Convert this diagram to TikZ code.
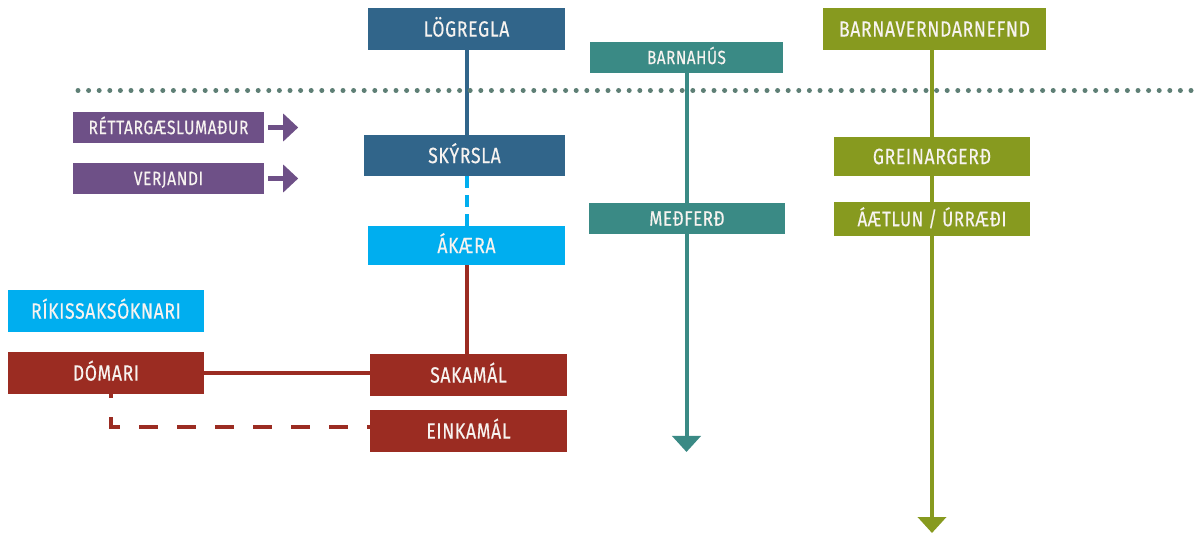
\documentclass[tikz,border=0pt]{standalone}
\usepackage{fontspec}
\setmainfont{Fira Sans}[FakeStretch=0.8, LetterSpace=3, FakeBold=0.4]
\usetikzlibrary{arrows.meta}
\definecolor{cblue}{HTML}{31658A}
\definecolor{cteal}{HTML}{3A8A85}
\definecolor{colive}{HTML}{879A1F}
\definecolor{cpurple}{HTML}{6E5087}
\definecolor{clight}{HTML}{00AEEF}
\definecolor{cred}{HTML}{9B2C22}
\definecolor{cdot}{HTML}{5E7F75}
\definecolor{ctext}{HTML}{F7F3F0}
\begin{document}
\begin{tikzpicture}[x=1pt,y=-1pt,
  box/.style={fill=#1, text=ctext, inner sep=0pt, anchor=center, font=\fontsize{22}{26}\selectfont, text height=15.2pt, text depth=0pt},
  smallbox/.style={box=#1, font=\fontsize{19}{22}\selectfont, text height=13.1pt},
  purpbox/.style={box=cpurple, font=\fontsize{19.5}{22}\selectfont, text height=13.4pt},
  midbox/.style={box=#1, font=\fontsize{21}{24}\selectfont, text height=14.5pt},
  conn/.style={line width=4pt, draw=#1},
  tealarrow/.style={line width=4pt, draw=#1, -{Triangle[length=16pt,width=28pt]}, #1},
  purparrow/.style={line width=5pt, draw=cpurple, -{Triangle[length=15pt,width=27pt]}, cpurple}]
\path[use as bounding box] (0,0) rectangle (1200,534);

% nodes
\node[box=cblue, minimum width=197pt, minimum height=42pt] (log) at (466.5,29) {LÖGREGLA};
\node[smallbox=cteal, minimum width=193pt, minimum height=31pt] (barnahus) at (686.5,57.5) {BARNAHÚS};
\node[box=colive, minimum width=223pt, minimum height=42pt] (barnav) at (934.5,29) {BARNAVERNDARNEFND};
\node[purpbox, minimum width=191pt, minimum height=31pt] (rett) at (168.5,127.5) {RÉTTARGÆSLUMAÐUR};
\node[purpbox, minimum width=191pt, minimum height=31pt] (verj) at (168.5,178.5) {VERJANDI};
\node[box=cblue, minimum width=201pt, minimum height=41pt] (sky) at (464.5,155.5) {SKÝRSLA};
\node[box=colive, minimum width=196pt, minimum height=39pt] (grein) at (932,156.5) {GREINARGERÐ};
\node[midbox=cteal, minimum width=196pt, minimum height=31pt] (medf) at (687,218.5) {MEÐFERÐ};
\node[midbox=colive, minimum width=196pt, minimum height=34pt] (aetl) at (932,219) {ÁÆTLUN / ÚRRÆÐI};
\node[box=clight, minimum width=197pt, minimum height=39pt] (akaera) at (466.5,245.5) {ÁKÆRA};
\node[box=clight, minimum width=196pt, minimum height=42pt] (rikis) at (106,311) {RÍKISSAKSÓKNARI};
\node[box=cred, minimum width=196pt, minimum height=42pt] (domari) at (106,373) {DÓMARI};
\node[box=cred, minimum width=197pt, minimum height=42pt] (saka) at (468.5,375) {SAKAMÁL};
\node[box=cred, minimum width=197pt, minimum height=42pt] (eink) at (468.5,431) {EINKAMÁL};

% helper coordinates
\coordinate (tealend) at (686.5,452);
\coordinate (oliveend) at (932,533);
\coordinate (dcorner) at (111,427);

% connectors
\draw[conn=cblue] (log.south) -- (sky.north -| log.south);
\draw[conn=clight, dash pattern=on 12pt off 7pt] (sky.south -| log.south) -- (akaera.north);
\draw[conn=cred] (akaera.south) -- (saka.north -| akaera.south);
\draw[conn=cred] (domari.east) -- (saka.west |- domari.east);
\draw[conn=cred, dash pattern=on 19pt off 19pt, dash phase=15pt] (domari.south -| dcorner) -- (dcorner) -- (eink.west |- dcorner);

\draw[conn=cteal] (barnahus.south) -- (medf.north -| barnahus.south);
\draw[tealarrow=cteal] (medf.south -| tealend) -- (tealend);
\draw[conn=colive] (barnav.south -| oliveend) -- (grein.north -| oliveend);
\draw[conn=colive] (grein.south -| oliveend) -- (aetl.north -| oliveend);
\draw[tealarrow=colive] (aetl.south -| oliveend) -- (oliveend);

\draw[purparrow] ([xshift=4pt]rett.east) -- ++(30,0);
\draw[purparrow] ([xshift=4pt]verj.east) -- ++(30,0);

% dotted separator
\draw[cdot, line width=5pt, line cap=round, dash pattern=on 0pt off 10.6pt] (78,90.5) -- (1200,90.5);
\end{tikzpicture}
\end{document}
